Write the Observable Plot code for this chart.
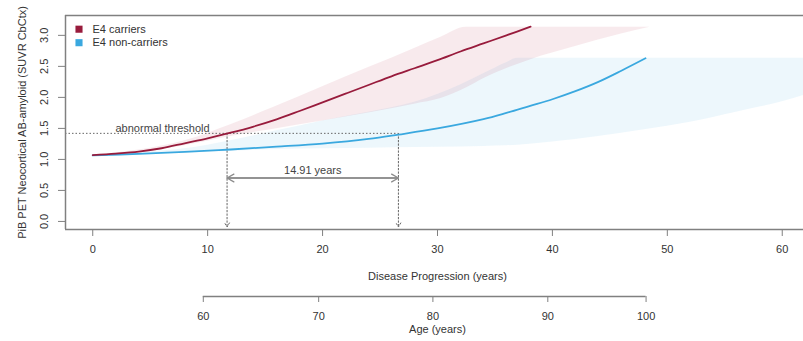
<!DOCTYPE html>
<html><head><meta charset="utf-8">
<script src="https://cdn.jsdelivr.net/npm/d3@7"></script>
<script src="https://cdn.jsdelivr.net/npm/@observablehq/plot@0.6"></script>
<style>body{margin:0;background:#fff} svg{display:block}</style>
</head><body><div id="chart"></div>
<script>
// ---- data ----
const seriesNames = ["E4 carriers", "E4 non-carriers"];
const carrierYears = [0,2,4,6,8,10,12,14,16,18,20,22,24,26,28,30,32,34,36,38.1];
const carrierSUVR  = [1.07,1.093,1.125,1.18,1.26,1.34,1.43,1.53,1.645,1.78,1.92,2.06,2.2,2.34,2.47,2.6,2.74,2.87,3.0,3.14];
const nonYears = [0,4,8,12,16,20,24,26.6,30,34,36,38,40,42,44,46,48.1];
const nonSUVR  = [1.065,1.09,1.12,1.16,1.205,1.255,1.33,1.40,1.5,1.65,1.75,1.86,1.97,2.10,2.25,2.43,2.63];
const carrierBandYears = [0,4,8,12,15.5,20,24,28,30.3,32.5,34,38,42,46,48.5];
const carrierBandLo = [1.07,1.11,1.22,1.37,1.48,1.62,1.75,1.89,1.98,2.15,2.3,2.6,2.82,3.02,3.13];
const carrierBandHi = [1.07,1.15,1.3,1.56,1.82,2.17,2.48,2.79,2.97,3.13,3.13,3.13,3.13,3.13,3.13];
const nonBandYears = [0,4,8,12,16,20,24,28,32,34,36,37,40,44,48,52,56,60,62];
const nonBandLo = [1.065,1.08,1.10,1.13,1.16,1.17,1.18,1.19,1.2,1.21,1.22,1.23,1.28,1.37,1.48,1.6,1.76,1.93,2.04];
const nonBandHi = [1.065,1.11,1.17,1.3,1.46,1.62,1.76,1.92,2.2,2.38,2.56,2.63,2.63,2.63,2.63,2.63,2.63,2.63,2.63];
const xTicks = [0,10,20,30,40,50,60];
const yTicks = [0,0.5,1,1.5,2,2.5,3];
const ageTicks = [60,70,80,90,100];
const ageTickYears = [9.62,19.66,29.6,39.6,48.15];
const threshold = 1.42;
const crossings = [11.69, 26.60];
const gapLabel = "14.91 years";
const thresholdLabel = "abnormal threshold";
const xTitle = "Disease Progression (years)";
const yTitle = "PiB PET Neocortical AB-amyloid (SUVR CbCtx)";
const ageTitle = "Age (years)";

// ---- styling ----
const colors = ["#981b3c", "#3aa8df"];
const xDomain = [-2.37, 61.85];
const yDomain = [-0.13, 3.32];
const gapLevel = 0.70;
const arrowTip = -0.09;
const frameColor = "#808080";
const textColor = "#333";
const font = "'Liberation Sans', Arial, Helvetica, sans-serif";

const zip = (xs, ys) => xs.map((x, i) => ({x, y: ys[i]}));
const band = (xs, lo, hi) => xs.map((x, i) => ({x, lo: lo[i], hi: hi[i]}));

const main = Plot.plot({
  width: 803, height: 290,
  marginLeft: 65, marginRight: 0, marginTop: 15, marginBottom: 61,
  x: {domain: xDomain},
  y: {domain: yDomain},
  style: {fontFamily: font, fontSize: "11px", color: textColor, background: "white"},
  marks: [
    Plot.areaY(band(nonBandYears, nonBandLo, nonBandHi), {x: "x", y1: "lo", y2: "hi", fill: "#5bb8e8", fillOpacity: 0.11, curve: "monotone-x", clip: true}),
    Plot.areaY(band(carrierBandYears, carrierBandLo, carrierBandHi), {x: "x", y1: "lo", y2: "hi", fill: "#c0405e", fillOpacity: 0.11, curve: "monotone-x", clip: true}),
    Plot.ruleY([threshold], {x1: () => xDomain[0], x2: () => crossings[1], stroke: "#666", strokeWidth: 1, strokeDasharray: "1.5,2"}),
    Plot.arrow(crossings, {x1: d => d, x2: d => d, y1: () => threshold, y2: () => arrowTip, stroke: "#666", strokeWidth: 1, strokeDasharray: "1.5,2", headLength: 7}),
    Plot.arrow([0], {x1: () => crossings[0], x2: () => crossings[1], y1: () => gapLevel, y2: () => gapLevel, stroke: "#8c8c8c", strokeWidth: 1.3, headLength: 9}),
    Plot.arrow([0], {x1: () => crossings[1], x2: () => crossings[0], y1: () => gapLevel, y2: () => gapLevel, stroke: "#8c8c8c", strokeWidth: 1.3, headLength: 9}),
    Plot.line(zip(nonYears, nonSUVR), {x: "x", y: "y", stroke: colors[1], strokeWidth: 1.8, curve: "catmull-rom"}),
    Plot.line(zip(carrierYears, carrierSUVR), {x: "x", y: "y", stroke: colors[0], strokeWidth: 1.8, curve: "catmull-rom"}),
    Plot.text([thresholdLabel], {text: d => d, frameAnchor: "left", y: () => threshold, dx: 50, dy: -1, textAnchor: "start", lineAnchor: "bottom", fill: "#444"}),
    Plot.text([gapLabel], {text: d => d, x: () => (crossings[0] + crossings[1]) / 2, y: () => gapLevel, dy: -4, lineAnchor: "bottom", fill: "#444"}),
    // frame (top, bottom, left)
    Plot.ruleY([yDomain[0], yDomain[1]], {stroke: frameColor, strokeWidth: 1.5}),
    Plot.ruleX([xDomain[0]], {stroke: frameColor, strokeWidth: 1.5}),
    // axes
    Plot.axisX({ticks: xTicks, tickSize: 7, tickPadding: 9, label: null, stroke: frameColor, fill: textColor}),
    Plot.axisY({ticks: yTicks, tickSize: 7, tickFormat: () => "", label: null, stroke: frameColor}),
    Plot.text(yTicks, {y: d => d, text: d => d.toFixed(1), frameAnchor: "left", dx: -21, rotate: -90, textAnchor: "middle", lineAnchor: "middle", fill: textColor}),
    Plot.text([yTitle], {text: d => d, frameAnchor: "left", dx: -43, rotate: -90, textAnchor: "middle", lineAnchor: "middle", fill: textColor}),
    Plot.text([xTitle], {text: d => d, frameAnchor: "bottom", dx: 3, dy: 47, lineAnchor: "middle", fill: textColor}),
    // legend
    Plot.dot([0], {frameAnchor: "top-left", dx: 13.5, dy: 13.7, symbol: "square", r: 4, fill: colors[0]}),
    Plot.dot([0], {frameAnchor: "top-left", dx: 13.5, dy: 27.2, symbol: "square", r: 4, fill: colors[1]}),
    Plot.text([seriesNames[0]], {text: d => d, frameAnchor: "top-left", dx: 27, dy: 13.5, textAnchor: "start", lineAnchor: "middle", fill: textColor}),
    Plot.text([seriesNames[1]], {text: d => d, frameAnchor: "top-left", dx: 27, dy: 27, textAnchor: "start", lineAnchor: "middle", fill: textColor})
  ]
});

const age = Plot.plot({
  width: 803, height: 51,
  marginLeft: 65, marginRight: 0, marginTop: 0, marginBottom: 45,
  x: {domain: xDomain},
  y: {domain: [0, 1], axis: null},
  style: {fontFamily: font, fontSize: "11px", color: textColor, background: "white"},
  marks: [
    Plot.ruleY([0], {x1: () => ageTickYears[0], x2: () => ageTickYears[ageTickYears.length - 1], stroke: frameColor, strokeWidth: 1.3}),
    Plot.axisX({ticks: ageTickYears, tickFormat: d => String(ageTicks[ageTickYears.indexOf(d)]), tickSize: 6, tickPadding: 10, label: null, stroke: frameColor, fill: textColor}),
    Plot.text([ageTitle], {text: d => d, frameAnchor: "bottom", dx: 3, dy: 33, lineAnchor: "middle", fill: textColor})
  ]
});

const root = document.getElementById("chart");
root.append(main, age);
</script>
</body></html>
